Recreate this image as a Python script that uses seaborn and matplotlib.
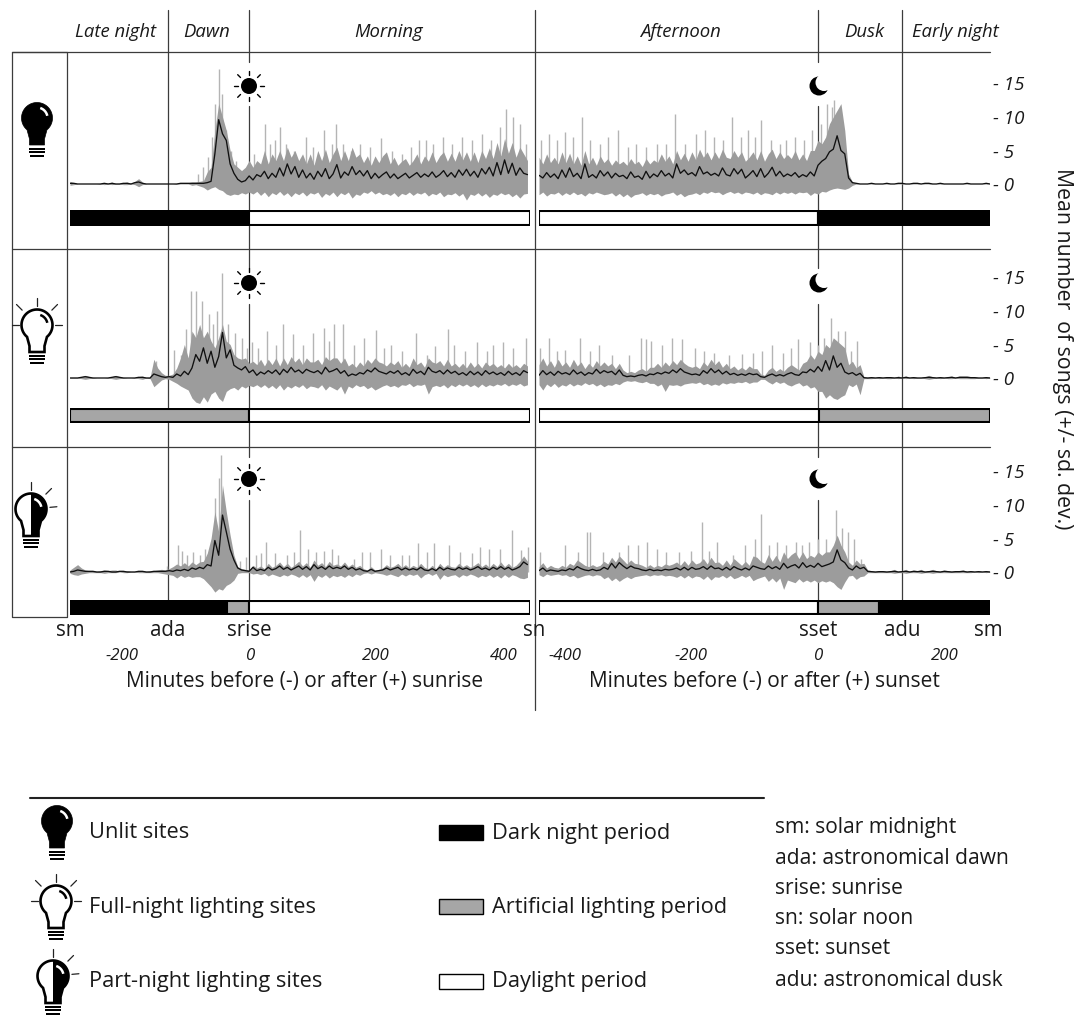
import numpy as np
import pandas as pd
import matplotlib
matplotlib.use('Agg')
import matplotlib.pyplot as plt
from matplotlib.patches import Circle, Polygon, Rectangle
import seaborn as sns

W, H = 1075, 1015
AM_START, AM_END = -282, 438
PM_START, PM_END = -441, 272

# values (songs), one point about every 6 minutes
unlit_am_mean = [.1,.1,0,0,0,0,0,0,0,.1, 0,.1,0,0,.1,.1,0,.2,.3,.1, 0,0,0,0,0,0,0,0,0,.1,
    .1,.1,.1,.1,.1,.1,.2,.4,4.5,9.6, 7.5,6.5,3,1.6,.7,.3,.5,1.2,.6,1.4, 1.1,1.9,.8,1.6,1.0,2.4,1.2,3.0,1.5,2.6,
    1.0,2.1,.9,1.6,.7,1.9,1.1,2.3,.8,1.5, 2.9,.9,1.8,1.3,2.6,1.4,2.0,1.2,2.0,.8, 1.6,.9,1.4,1.8,.9,1.5,.8,1.2,1.6,.9,
    1.3,1.7,1.0,1.5,1.1,1.8,1.0,1.4,2.0,1.1, 1.7,1.0,2.1,1.3,2.2,1.2,1.9,1.0,2.3,1.5, 2.5,1.2,3.2,1.4,3.6,1.6,3.1,1.3,2.4,1.6, 1.4]
unlit_am_upper = [.4,.2,0,0,0,0,0,0,.1,.2, .1,.3,.1,.1,.2,.3,.1,.4,.8,.3, 0,0,0,0,0,0,0,0,.1,.1,
    .2,.2,.3,.3,.4,.5,1.8,2.5,8,12, 10,8,5,3,2.5,2,2.5,3.5,2.5,3.5, 3,5,3,4.5,3.5,5,3.5,5.5,4,5,
    3.5,4.5,3,4.5,2.8,5,3.5,5.2,3.2,4.5, 5.5,3.5,5,3.5,5.5,4,4.5,3.2,4.2,2.8, 4.2,3.2,4.2,4.8,3,4,2.8,3.4,3.8,2.8,
    3.5,4.5,3,4.2,3.4,4.8,3.2,4.2,4.8,3.4, 4.6,3.4,5,3.6,4.8,3.4,4.8,3.2,5,3.8, 5.4,3.8,6.2,4.2,6.8,4.6,6.2,4,5.5,4.5, 3.5]
unlit_am_lower = [-.2,-.1,0,0,0,0,0,0,0,-.1, 0,-.1,0,0,-.1,-.1,0,-.1,-.4,-.1, 0,0,0,0,0,0,0,0,0,0,
    0,0,-.2,-.1,-.3,-.5,-.9,-.6,-.4,-.8, -1.0,-1.5,-1.7,-1.5,-1.6,-1.3,-1.5,-1.2,-1.5,-1.1, -1.7,-1.2,-1.9,-1.3,-1.6,-1.1,-1.7,-1.3,-1.9,-1.3,
    -1.6,-1.2,-1.8,-1.3,-1.5,-1.2,-2.0,-1.4,-1.7,-1.2, -1.9,-1.3,-1.6,-1.2,-2.1,-1.5,-1.7,-1.2,-1.4,-1.0, -1.5,-1.2,-1.6,-1.4,-1.7,-1.3,-1.9,-1.4,-1.6,-1.2,
    -1.7,-1.3,-1.5,-1.2,-1.8,-1.4,-1.6,-1.2,-1.9,-1.5, -1.6,-1.3,-1.8,-1.4,-2.4,-1.5,-1.7,-1.3,-1.8,-1.4, -2.0,-1.5,-1.7,-1.3,-1.6,-1.4,-1.9,-1.5,-2.1,-1.5, -1.4]
unlit_am_spike_x = [-80,-72,-65,-59,-53,-47,-42,-36,-29,-20,8,25,32,40,48,58,70,90,100,117,130,136,148,160,175,190,207,225,240,255,268,278,290,305,320,335,350,367,380,394,405,416,427,436]
unlit_am_spike_y = [1.5,2.5,4,7,12,17.2,13.5,8,5,3.5,4.5,9,6,6.5,8.5,6,5,7,5.5,8,6,9,6,5,6,5.5,6.8,5,4.5,5.5,6.5,6.5,6,7,6,7,6.5,7.5,6.5,8.5,11.2,10,9,6]

unlit_pm_mean = [1.3,.9,1.7,1.0,1.5,.8,2.1,1.0,2.4,1.1, 1.6,.8,3.0,1.0,1.4,.9,2.0,1.2,1.8,.9, 1.6,1.1,1.3,.8,1.8,1.0,1.2,.7,1.9,.9,
    1.5,1.1,2.0,1.2,1.6,.9,3.0,1.6,2.1,1.4, 1.7,1.2,2.6,1.5,1.8,1.3,1.6,1.2,2.4,1.4, 1.2,2.3,1.5,2.2,.9,1.4,2.0,1.1,2.3,1.0,
    1.6,2.5,1.2,1.9,1.1,1.5,1.2,1.7,1.0,1.4, 1.1,1.8,1.2,2.8,3.4,3.8,4.8,5.2,7.2,5.0, 4.5,.9,.2,.1,0,0,0,.1,0,0,
    0,.1,0,0,.1,.1,0,0,.1,.1, 0,.1,.1,0,0,.1,0,0,0,0, 0,0,.1,0,0,0,0,.1,0]
unlit_pm_upper = [4,3,4.5,3.2,4,3,4.8,3.2,4.6,3, 4.2,2.8,5,3,4,2.8,4.2,3.2,3.8,2.8, 3.6,3,3.4,2.8,3.8,3,3.4,2.6,3.8,3,
    3.6,3.2,4.5,3.4,4.2,3,5,3.6,4.6,3.4, 4.8,3.6,5.2,4,4.8,3.6,4.8,3.8,5.2,4, 3.8,5,4,4.8,3.4,4,4.8,3.6,5,3.4,
    4.5,5.2,3.8,4.8,3.8,4.4,3.8,5,3.6,4.5, 3.5,5,5,6.5,6,7,9,10,11,12, 8,1.5,.3,.1,0,0,0,.1,0,0,
    0,.1,0,0,.1,.1,0,0,.1,.1, 0,.1,.1,0,0,.1,0,0,0,0, 0,0,.1,0,0,0,0,.1,0]
unlit_pm_lower = [-1.6,-1.2,-1.8,-1.4,-1.5,-1.2,-1.7,-1.3,-1.6,-1.2, -1.6,-1.4,-1.8,-1.3,-1.5,-1.2,-1.4,-1.6,-1.5,-1.3, -1.8,-1.4,-1.9,-1.5,-2.0,-1.6,-1.5,-1.3,-1.7,-1.4,
    -1.6,-1.4,-1.8,-1.5,-1.4,-1.2,-1.7,-1.4,-1.9,-1.6, -1.5,-1.3,-1.6,-1.2,-1.4,-1.1,-1.3,-1.2,-1.6,-1.3, -1.1,-1.4,-1.2,-1.5,-1.2,-1.3,-1.5,-1.2,-1.6,-1.3,
    -1.4,-1.6,-1.2,-1.5,-1.2,-1.4,-1.2,-1.5,-1.2,-1.3, -1.2,-1.7,-1.3,-1.5,-1.1,-1.2,-.9,-.7,-.6,-.7, -.8,-.6,-.2,0,0,0,0,0,0,0,
    0,0,0,0,0,0,0,0,0,0, 0,0,0,0,0,0,0,0,0,0, 0,0,0,0,0,0,0,0,0]
unlit_pm_spike_x = [-438,-425,-412,-400,-388,-373,-360,-345,-332,-316,-300,-288,-272,-255,-240,-226,-210,-193,-178,-165,-150,-136,-122,-110,-100,-90,-75,-60,-50,-37,-22,-10,5,15,22,26,35]
unlit_pm_spike_y = [6.5,7.5,6.5,7.7,7,10,6.5,6,7,8,5.5,6,5.5,6,6,10.5,6,7.5,8,7,6.5,10,7,8,7,9.5,6.5,6,6.5,7,6.5,8,9,12,11.5,12.5,10.5]

full_am_mean = [0,0,0,.1,.2,.1,0,0,0,0, 0,.1,.2,.1,0,0,0,0,.1,.1, 0,0,.6,.4,.2,.1,.2,.1,.6,.3,
    1,.5,1.5,3.5,2.5,4.5,2.2,4,1.6,3.2, 6.8,3,4.2,1.9,1.5,1.2,1.7,.8,1.2,.4, .9,.6,1.1,.7,1.2,.5,1.3,.8,1.6,.9,
    1.2,.7,1.3,1.0,.8,1.1,.6,1.6,.9,1.1, 1.4,.7,1.1,.3,.6,.4,.8,.6,1.2,.9, 1.5,1.0,.8,.6,1.0,.7,1.1,.5,.8,.4,
    1.3,.7,1.0,.5,1.6,1.0,.8,1.1,.6,1.2, .7,1.0,.5,.8,.4,1.0,.5,.9,.4,1.1, .6,.9,.5,.8,.4,1.0,.5,.8,.4,1.1, .8]
full_am_upper = [.1,.1,.1,.2,.4,.2,.1,0,0,0, .1,.2,.4,.2,.1,0,0,.1,.2,.3, .1,.1,2.8,1.5,.8,.4,.4,.6,1.5,3,
    5,3,7,6,8,6,7,5.5,4.5,6, 8,5.5,5,3.5,3,2.8,3,2.2,2.5,2, 2.8,1.8,2.8,2,3,1.8,3,2,3.2,2.4,
    3,2,3,2.4,2.4,2.8,2,3.2,2.6,3, 3,2.2,3,1.8,2.2,1.6,2.4,1.8,2.8,2.2, 3,2.4,2.2,1.8,2.4,2,2.6,1.6,2.2,1.6,
    3,2,2.4,1.6,3,2.4,2.2,2.6,1.8,2.8, 1.8,2.2,1.6,2.2,1.5,2.4,1.6,2.2,1.5,2.4, 1.8,2.2,1.6,2,1.5,2.2,1.6,2,1.5,2.2, 1.8]
full_am_lower = [0,0,0,-.1,-.2,-.1,0,0,0,0, 0,-.1,-.2,-.1,0,0,0,0,-.1,-.2, 0,-.1,-1.3,-.8,-.3,-.1,-.2,-.5,-.8,-1.2,
    -1.5,-1.8,-3,-3.6,-3.8,-2.8,-3.6,-2.4,-2,-3, -3.5,-2,-1.6,-1.4,-1.8,-1.2,-1.5,-1.1,-1.3,-1, -1.4,-1,-1.5,-1.1,-1.6,-1,-1.8,-1.2,-1.5,-1.1,
    -1.4,-1,-1.6,-1.2,-1.3,-1.5,-1,-1.8,-1.2,-1.5, -1.8,-1.2,-2.4,-1.2,-1.5,-1,-1.3,-1.1,-1.6,-1.3, -1.8,-1.5,-1.2,-1,-1.3,-1.1,-1.4,-1,-1.1,-.8,
    -1.3,-1,-1.1,-.9,-2.4,-1.3,-1.1,-1.3,-1,-1.5, -1,-1.3,-.9,-1.2,-.9,-1.3,-1,-1.4,-.9,-1.3, -1,-1.2,-.9,-1.1,-.8,-1.2,-.9,-1.1,-.8,-1.2, -1]
full_am_spike_x = [-146,-118,-107,-99,-91,-83,-75,-64,-57,-50,-42,-34,-23,-12,-4,4,14,28,42,54,69,84,101,117,125,134,148,165,181,199,212,223,240,263,280,292,313,323,340,359,375,383,399,416,436]
full_am_spike_y = [2.6,4.2,3.5,7.3,13,13,11.5,9.5,8,10,15.6,8,6.7,6,4.5,5.3,4.5,7,5,8,6.5,5,6.7,7.5,5.5,8,8,5,6,7.2,4.5,5,4,6.7,3.5,4.8,7.3,5,4,5.3,4,5,5.3,4.5,6]

full_pm_mean = [.4,1.1,.5,.9,.4,1.0,.6,.8,.5,1.2, .6,.9,.4,.8,.6,1.3,.7,1.1,.8,1.0, .5,1.2,.4,.2,.3,.2,.4,.5,.3,.6,
    .5,.8,.6,.9,.7,1.2,.8,1.4,.9,.7, .5,.6,.4,1.1,.7,1.4,.8,1.2,.6,1.0, .5,.7,.4,.6,.4,.7,.5,.6,.2,.1,
    .4,.6,.3,.5,.3,.6,.8,.5,.4,.9, .8,1.3,.9,1.7,1.0,2.6,1.2,3.3,1.6,2.2, .9,.6,.8,.4,.7,.05,0,.05,0,.05,
    0,.05,.05,0,.05,0,.1,0,.05,0, 0,.05,.1,.05,0,.05,0,.05,.1,0, .1,.1,.1,.05,.05,0,0,.05,0]
full_pm_upper = [2,3,1.8,2.6,1.6,2.8,1.8,2.4,1.6,2.8, 1.8,2.4,1.4,2.2,1.6,2.6,1.8,2.4,1.8,2.2, 1.4,2.2,1.2,.8,1,.8,1.2,1.4,1,1.6,
    1.6,2.2,1.6,2.4,1.8,2.6,2,2.8,2.2,1.8, 1.6,1.8,1.4,2.4,1.8,2.8,2,2.6,1.6,2.2, 1.4,1.8,1.2,1.6,1.2,1.8,1.4,1.4,.6,.4,
    1.2,1.6,1,1.4,1,1.6,2,1.6,1.2,2.2, 2.5,3.5,2.8,4,3.5,5,4.5,6,5.5,5, 4.5,2,2.5,1.5,2,.2,.1,.2,.1,.2,
    .1,.2,.2,.1,.3,.1,.3,.1,.2,.1, .1,.2,.4,.2,.1,.2,.1,.2,.3,.1, .3,.3,.3,.2,.2,.1,.1,.2,.1]
full_pm_lower = [-1,-1.8,-.9,-1.3,-.8,-1.4,-1,-1.2,-.8,-1.2, -.9,-1.1,-.7,-1,-.8,-1.2,-.9,-1.3,-1,-1.1, -.8,-1,-.6,-.4,-.5,-.4,-.6,-.7,-.5,-.8,
    -.8,-1.2,-.9,-2,-1,-1.1,-1,-1.2,-.9,-.8, -.7,-.8,-.6,-1,-.8,-1.1,-.9,-1.1,-.7,-.9, -.7,-.8,-.6,-.7,-.5,-.8,-.6,-.6,-.2,-.2,
    -.6,-.9,-.5,-.8,-.6,-1,-1.2,-.9,-.7,-1.2, -1,-1.5,-1.3,-2,-2,-3,-2.5,-3,-3.2,-2.8, -2.5,-1,-1.3,-.9,-2.5,-.1,-.1,-.1,0,-.1,
    0,-.1,-.1,0,-.1,0,-.1,0,-.1,0, 0,-.1,-.2,-.1,0,-.1,0,-.1,-.1,0, -.1,-.1,-.1,-.1,-.1,0,0,-.1,0]
full_pm_spike_x = [-440,-425,-412,-400,-376,-360,-346,-325,-298,-280,-272,-264,-247,-231,-215,-195,-180,-165,-140,-120,-102,-88,-73,-56,-42,-32,-13,0,10,20,31,43,53,61]
full_pm_spike_y = [4.5,6,4,4.2,6,4,5,3.5,3.5,6,5.8,5.5,5,6,5.8,4.5,4,3.8,3.5,3.6,3.8,4,5,3.8,4.5,5.8,5.3,5,6,9,7,7,4,5.5]

part_am_mean = [0,.1,.3,.2,.1,.1,.1,0,0,.1, .1,0,0,.1,.1,0,0,0,.1,.1, 0,0,.1,.1,.1,.1,.2,.1,.3,.2,
    .4,.2,.6,.4,.7,.5,1.1,.9,4.7,2.5, 8.5,6,3.4,1.8,.6,.3,.2,.1,.7,.2, .4,.2,.7,.3,.5,.9,.4,.7,.3,.6,
    .9,.4,.8,.3,1.1,.5,.8,.4,.9,.5, .7,.5,.9,.4,.7,.3,.5,.2,.1,.4, .1,.2,.3,.6,.3,.5,.7,.3,.6,.3,
    .5,.3,.7,.3,.2,.5,.2,.7,.3,.6, .4,.3,.7,.4,.6,.3,.5,.8,.4,.6, .3,.7,.4,.8,.4,.7,.3,.5,.8,1.5, 1.1]
part_am_upper = [.3,.7,1.1,.6,.3,.2,.2,.1,.2,.3, .2,.3,.3,.1,.1,.2,.1,.1,.2,.2, .1,.2,.2,.3,.4,.3,.5,.8,1.2,.9,
    1.4,.9,1.5,1.1,1.5,1.6,2.8,5,9,6, 13,9,5.5,2.5,.8,.5,.4,.3,1,.6, .9,.5,1.3,.7,1,1.5,.8,1.3,.7,1.1,
    1.6,.9,1.4,.7,1.8,1,1.4,.8,1.6,1, 1.2,.9,1.5,.8,1.2,.7,1,.5,.3,.8, .3,.4,.6,1.1,.7,.9,1.3,.7,1.1,.6,
    1,.7,1.3,.7,.5,1,.5,1.3,.7,1.1, .8,.7,1.3,.8,1.1,.7,1,1.4,.8,1.2, .7,1.3,.8,1.5,.8,1.3,.7,1,1.6,2.4, 1.6]
part_am_lower = [-.2,-.4,-.5,-.3,-.2,-.1,-.1,-.1,-.1,-.2, -.1,-.1,-.1,0,-.1,-.1,0,0,-.1,-.1, -.1,-.1,-.1,-.1,-.2,-.3,-.4,-.5,-.9,-.5,
    -.8,-.6,-.8,-.7,-.7,-1,-1.6,-2.2,-3,-2.5, -2.7,-2,-1.7,-1.2,-.2,-.1,-.1,-.1,-.3,-.2, -.4,-.2,-.6,-.3,-.5,-.7,-.4,-.6,-.3,-.5,
    -.8,-.4,-.8,-.4,-1.4,-.5,-.8,-.4,-.9,-.5, -.7,-.5,-.8,-.4,-.7,-.3,-.5,-.2,-.1,-.3, -.1,-.2,-.3,-.5,-.3,-.5,-.7,-.3,-.6,-.3,
    -.5,-.3,-.9,-.4,-.2,-.5,-.2,-1.1,-.4,-.7, -.5,-.4,-.8,-.4,-.6,-.3,-.5,-.8,-.5,-.7, -.4,-.8,-.5,-.9,-.4,-.8,-.4,-.6,-.9,-1, -.8]
part_am_spike_x = [-130,-112,-105,-98,-88,-78,-70,-60,-53,-48,-44,-38,-30,-15,-5,10,18,27,40,60,70,80,92,105,118,130,140,165,177,190,207,222,240,252,266,280,291,315,332,350,364,378,395,414,428,439]
part_am_spike_y = [.9,4,3.2,2.5,3,2.5,3.5,4,11,14,17.4,9,2.5,1.6,2.2,2.5,2.8,4.5,2.8,2.5,3,6.3,3.5,3,3.2,3.5,2.6,2,3,3,3.5,2.5,2.5,2.5,4.3,3,4.4,4,3,2.8,3.7,3.5,3.4,6.2,3.3,3.8]

part_pm_mean = [.2,.6,.1,.3,.2,.1,.3,.2,.5,.3, .8,.5,.3,.2,.4,.2,.3,.7,.4,1.3, .6,1.4,.9,.5,.9,.6,.5,.3,.2,.4,
    .2,.3,.2,.4,.3,.4,.6,.3,.7,.3, .7,.4,.5,.8,.4,.9,.5,.6,.3,.7, .3,.8,.5,.3,.6,.3,.9,.7,.5,.4,
    .9,.5,.8,.4,1.3,.6,.9,1.1,.6,1.4, .7,1.0,.7,1.3,.8,1.0,1.2,1.5,3.3,1.8, 1.4,.6,.3,.9,.5,.7,.1,.05,0,.05,
    .05,0,.05,.1,0,.05,.1,0,.1,.05, .1,0,.05,.1,.05,0,.1,.05,0,.05, .05,.1,0,.05,0,.05,0,.05,0]
part_pm_upper = [.8,1.4,.6,1,.7,.6,1,.7,1.3,1, 1.8,1.4,1,.8,1.1,.8,1,1.6,1.2,2.2, 1.5,2.4,1.8,1.2,1.8,1.3,1.2,1,.7,1.1,
    .7,1,.8,1.2,1,1.2,1.5,1,1.7,1, 1.8,1.2,1.4,2,1.2,2.2,1.4,1.5,1,1.8, 1,2,1.5,1,1.6,1,2.4,2.2,1.6,1.3,
    2.6,1.6,2.5,1.5,3,2,2.6,3,2,3, 2,2.5,2.2,3,2.5,3,3,4,5.5,4, 3,1.5,1,1.8,1.2,1.3,.3,.2,.1,.2,
    .2,.1,.2,.4,.1,.2,.4,.1,.3,.2, .4,.1,.2,.4,.2,.1,.3,.2,.1,.2, .2,.3,.1,.2,.1,.2,.1,.2,.1]
part_pm_lower = [-.4,-.7,-.3,-.5,-.4,-.3,-.5,-.4,-.7,-.5, -.9,-.7,-.5,-.4,-.6,-.4,-.5,-1,-.7,-1.3, -.9,-1.4,-1,-.7,-1,-.7,-.6,-.5,-.4,-.6,
    -.4,-.5,-.4,-.6,-.5,-.6,-.8,-.5,-.9,-.5, -.9,-.6,-.7,-1.1,-.6,-1.2,-.7,-.8,-.5,-.9, -.5,-1,-.8,-.5,-.8,-.5,-1.3,-1,-.8,-.6,
    -1.4,-.9,-1.5,-.9,-2.6,-1.2,-1.4,-1.6,-1,-1.5, -1.2,-1.5,-1.2,-1.6,-1.3,-1.5,-1.3,-1.6,-2.2,-2.6, -1.5,-.6,-.5,-1.1,-.7,-.6,-.1,-.1,-.1,-.1,
    -.1,-.1,-.1,-.2,-.1,-.1,-.2,-.1,-.1,-.1, -.2,-.1,-.1,-.2,-.1,-.1,-.1,-.1,-.1,-.1, -.1,-.1,-.1,-.1,0,-.1,0,-.1,0]
part_pm_spike_x = [-440,-400,-380,-365,-360,-340,-315,-300,-285,-270,-255,-240,-220,-200,-184,-173,-160,-135,-115,-100,-90,-77,-65,-50,-35,-25,-14,0,12,28,38,48,57,68]
part_pm_spike_y = [3,4,3,6,6,3,3,4,4,4.5,3.5,3,3,3.2,7.5,3.2,4.5,2.5,4,5,8.6,4,4.5,4,4.5,4,4.5,5,5,9.2,6.5,6,5,2]

# bar colour blocks: (start minute, end minute, colour)
unlit_am_blocks = [(AM_START, 0, 'black'), (0, AM_END + 4, 'white')]
unlit_pm_blocks = [(PM_START, 0, 'white'), (0, PM_END, 'black')]
full_am_blocks = [(AM_START, 0, '#a6a6a6'), (0, AM_END + 4, 'white')]
full_pm_blocks = [(PM_START, 2, 'white'), (2, PM_END, '#a6a6a6')]
part_am_blocks = [(AM_START, -35, 'black'), (-35, 0, '#a6a6a6'), (0, AM_END + 4, 'white')]
part_pm_blocks = [(PM_START, 0, 'white'), (0, 96, '#a6a6a6'), (96, PM_END, 'black')]

period_names = ['Late night', 'Dawn', 'Morning', 'Afternoon', 'Dusk', 'Early night']
period_x = [116, 207, 389, 680, 864, 955]
marker_names = ['sm', 'ada', 'srise', 'sn', 'sset', 'adu', 'sm']
marker_x = [70, 168, 249, 534, 818, 902, 988]
y_ticks = [0, 5, 10, 15]
y_tick_labels = ['- 0', '- 5', '- 10', '- 15']
am_ticks = [-200, 0, 200, 400]
pm_ticks = [-400, -200, 0, 200]
site_names = ['Unlit sites', 'Full-night lighting sites', 'Part-night lighting sites']
period_legend = ['Dark night period', 'Artificial lighting period', 'Daylight period']
abbreviations = ['sm: solar midnight', 'ada: astronomical dawn', 'srise: sunrise',
                 'sn: solar noon', 'sset: sunset', 'adu: astronomical dusk']

rows = [
    dict(zero=184, top=53, bar=(210, 226), kind='unlit',
         am=(unlit_am_mean, unlit_am_upper, unlit_am_lower, unlit_am_spike_x, unlit_am_spike_y, unlit_am_blocks),
         pm=(unlit_pm_mean, unlit_pm_upper, unlit_pm_lower, unlit_pm_spike_x, unlit_pm_spike_y, unlit_pm_blocks)),
    dict(zero=378, top=250, bar=(408, 423), kind='full',
         am=(full_am_mean, full_am_upper, full_am_lower, full_am_spike_x, full_am_spike_y, full_am_blocks),
         pm=(full_pm_mean, full_pm_upper, full_pm_lower, full_pm_spike_x, full_pm_spike_y, full_pm_blocks)),
    dict(zero=572, top=448, bar=(600, 615), kind='part',
         am=(part_am_mean, part_am_upper, part_am_lower, part_am_spike_x, part_am_spike_y, part_am_blocks),
         pm=(part_pm_mean, part_pm_upper, part_pm_lower, part_pm_spike_x, part_pm_spike_y, part_pm_blocks)),
]

sns.set_theme(style='white')
plt.rcParams['font.family'] = ['Open Sans', 'DejaVu Sans']
TEXT = '#1a1a1a'
LINE = '#3c3c3c'
UNIT = 6.7

fig = plt.figure(figsize=(W / 100, H / 100), dpi=100)


def px_axes(x0, y0, x1, y1, zorder):
    ax = fig.add_axes([x0 / W, 1 - y1 / H, (x1 - x0) / W, (y1 - y0) / H], zorder=zorder)
    ax.patch.set_alpha(0)
    sns.despine(ax=ax, left=True, bottom=True)
    return ax


# overlay in pixel coordinates for the frame and the pictograms
deco = px_axes(0, 0, W, H, 1)
deco.set_xlim(0, W)
deco.set_ylim(H, 0)
deco.set_xticks([])
deco.set_yticks([])


def label(x, y, s, size=15.7, **kw):
    kw.setdefault('ha', 'center')
    kw.setdefault('va', 'center')
    deco.text(x, y, s, fontsize=size, color=TEXT, **kw)


def draw_bulb(cx, cy, kind):
    t = np.radians(np.linspace(-50, 230, 50))
    head = np.column_stack([cx + 15.5 * np.cos(t), cy - 15.5 * np.sin(t)])
    neck = [[cx - 7.5, cy + 21], [cx - 7.5, cy + 27], [cx + 7.5, cy + 27], [cx + 7.5, cy + 21]]
    outline = np.vstack([head, neck])
    if kind == 'unlit':
        deco.add_patch(Polygon(outline, closed=True, fc='black', ec='black', lw=0.5))
    else:
        deco.add_patch(Polygon(outline, closed=True, fc='white', ec='black', lw=1.9))
    if kind == 'part':
        half = Polygon(outline, closed=True, fc='black', ec='black', lw=0.5)
        deco.add_patch(half)
        half.set_clip_path(Rectangle((cx, cy - 30), 30, 70, transform=deco.transData))
    arc = np.radians(np.linspace(-72, -12, 15))
    arc_col = 'black' if kind == 'full' else 'white'
    deco.plot(cx + 10.5 * np.cos(arc), cy + 10.5 * np.sin(arc), color=arc_col, lw=1.8, solid_capstyle='butt')
    for dy, half_w in [(29.5, 8), (33, 8), (36.5, 7)]:
        deco.add_patch(Rectangle((cx - half_w, cy + dy), 2 * half_w, 2.2, fc='black', ec='none'))
    rays = []
    if kind == 'full':
        rays = [(-90, 19, 27), (-45, 21, 29), (-135, 21, 29), (0, 18, 25), (180, 18, 25)]
    if kind == 'part':
        rays = [(-90, 19, 27), (-45, 21, 29), (-5, 19, 26)]
    for ang, r0, r1 in rays:
        a = np.radians(ang)
        deco.plot([cx + r0 * np.cos(a), cx + r1 * np.cos(a)], [cy + r0 * np.sin(a), cy + r1 * np.sin(a)],
                  color='#222222', lw=0.9)


def draw_sun(cx, cy):
    deco.add_patch(Circle((cx, cy), 8, fc='black', ec='none'))
    for ang in range(0, 360, 45):
        a = np.radians(ang)
        r0, r1 = (11, 15) if ang % 90 == 0 else (12, 16)
        deco.plot([cx + r0 * np.cos(a), cx + r1 * np.cos(a)], [cy + r0 * np.sin(a), cy + r1 * np.sin(a)],
                  color='black', lw=1.0)


def draw_moon(cx, cy):
    deco.add_patch(Circle((cx, cy), 9.5, fc='black', ec='none'))
    deco.add_patch(Circle((cx + 5, cy - 3.5), 8.5, fc='white', ec='none'))


# frame
for y in [52, 249, 447]:
    deco.plot([12, 990], [y, y], color=LINE, lw=0.9)
deco.plot([12, 67, 67, 12, 12], [52, 52, 617, 617, 52], color=LINE, lw=0.9)
deco.plot([168, 168], [10, 600], color=LINE, lw=0.9)
deco.plot([902, 902], [10, 600], color=LINE, lw=0.9)
deco.plot([534.5, 534.5], [10, 710], color=LINE, lw=0.9)
for x in [249, 818]:
    for y0, y1 in [(10, 62), (106, 268), (304, 457), (500, 600)]:
        deco.plot([x, x], [y0, y1], color=LINE, lw=0.9)

for name, x in zip(period_names, period_x):
    label(x, 32, name, size=13.3, style='italic')
for name, x in zip(marker_names, marker_x):
    label(x, 631, name, size=14.8)

for row, icon_x, sun_y in zip(rows, [37, 37, 31], [86, 283, 479]):
    head_y = {'unlit': 118, 'full': 325, 'part': 509}[row['kind']]
    draw_bulb(icon_x, head_y, row['kind'])
    draw_sun(249, sun_y)
    draw_moon(819, sun_y)

# the traces
for r, row in enumerate(rows):
    y_top = (row['zero'] - row['top']) / UNIT
    y_bot = -(row['bar'][0] - 2 - row['zero']) / UNIT
    sides = [('am', 70, 530, AM_START, AM_END + 4), ('pm', 539, 990, PM_START, PM_END)]
    for side, x0, x1, t0, t1 in sides:
        mean, upper, lower, spike_x, spike_y, blocks = row[side]
        ax = px_axes(x0, row['top'], x1, row['bar'][0] - 2, 2)
        ax.set_xlim(t0, t1)
        ax.set_ylim(y_bot, y_top)
        t_end = t1 - 4 if side == 'am' else t1
        band_x = np.linspace(t0, t_end, len(upper))
        low_on_up = np.interp(band_x, np.linspace(t0, t_end, len(lower)), lower)
        ax.vlines(spike_x, 0, spike_y, color='#b4b4b4', lw=1.0, zorder=1)
        ax.fill_between(band_x, low_on_up, upper, color='#9c9c9c', lw=0, zorder=2)
        df = pd.DataFrame({'minute': np.linspace(t0, t_end, len(mean)), 'songs': mean})
        sns.lineplot(data=df, x='minute', y='songs', color='#101010', lw=0.95, estimator=None,
                     errorbar=None, ax=ax, zorder=3)
        ax.set_xlabel('')
        ax.set_ylabel('')
        ax.set_xticks([])
        if side == 'pm':
            ax.yaxis.tick_right()
            ax.set_yticks(y_ticks)
            ax.set_yticklabels(y_tick_labels, fontsize=13.5, style='italic', color=TEXT)
            ax.tick_params(axis='y', length=0, pad=2)
        else:
            ax.set_yticks([])

        strip = px_axes(x0, row['bar'][0], x1, row['bar'][1], 3)
        strip.set_xlim(t0, t1)
        strip.set_ylim(0, 1)
        for start, end, colour in blocks:
            strip.barh(0.5, end - start, left=start, height=0.92, color=colour, edgecolor='black', lw=1.5)
        strip.set_yticks([])
        strip.set_xticks([])
        for sp in strip.spines.values():
            sp.set_visible(False)

        if r == 2:
            ticks = am_ticks if side == 'am' else pm_ticks
            strip.set_xticks(ticks)
            strip.set_xticklabels([str(t) for t in ticks], fontsize=12.2, style='italic', color=TEXT)
            strip.tick_params(axis='x', length=0, pad=24)

label(305, 682, 'Minutes before (-) or after (+) sunrise', size=15)
label(764, 682, 'Minutes before (-) or after (+) sunset', size=15)
label(1062, 349, 'Mean number  of songs (+/- sd. dev.)', size=15.3, rotation=270)

# legend block
deco.plot([30, 764], [798, 798], color='#222222', lw=1.5)
for kind, cx, cy, name, ty in zip(['unlit', 'full', 'part'], [57, 56, 53], [821, 901, 976], site_names, [832, 907, 981]):
    draw_bulb(cx, cy, kind)
    label(89, ty, name, ha='left')
for colour, y, name in zip(['black', '#a6a6a6', 'white'], [825, 899, 974], period_legend):
    deco.add_patch(Rectangle((438.5, y), 44, 15, fc=colour, ec='black', lw=1.0))
    label(492, y + 8, name, ha='left')
for y, name in zip([827, 858, 889, 919, 949, 980], abbreviations):
    label(775, y, name, size=15.1, ha='left')

fig.savefig('out.png', dpi=100)
